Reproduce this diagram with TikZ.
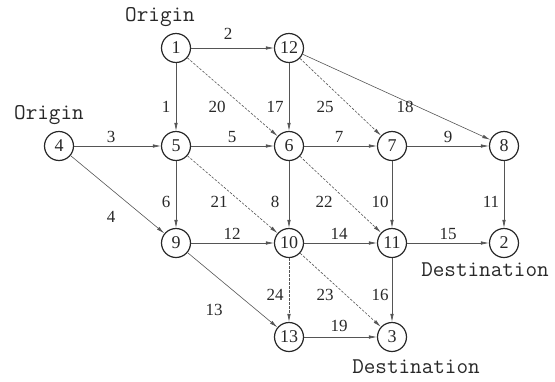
\documentclass[tikz,border=0pt]{standalone}
\usepackage{fontspec}
\setmainfont{Liberation Serif}
\usetikzlibrary{arrows.meta,positioning}
\definecolor{linegray}{RGB}{85,85,85}
\definecolor{inkgray}{RGB}{40,40,40}

\begin{document}
\begin{tikzpicture}[x=1pt,y=-1pt,
  vert/.style={circle,draw=inkgray,line width=1.2pt,minimum size=29pt,inner sep=0pt,
    text=inkgray,font=\fontsize{18}{18}\selectfont},
  arc/.style={linegray,line width=0.6pt,-{Latex[length=8pt,width=3.5pt]}},
  dasharc/.style={arc,dash pattern=on 2.5pt off 1.5pt},
  elab/.style={text=inkgray,inner sep=1pt,font=\fontsize{17}{17}\selectfont},
  tag/.style={text=inkgray,inner sep=1pt,font=\ttfamily\fontsize{22.5}{22.5}\selectfont}]
  \useasboundingbox (0,0) rectangle (555,381);
  % ---------- vertices (pixel grid of the original) ----------
  \foreach \n/\x/\y in {1/176/48,12/289/48,4/59/146,5/176/146,6/289/146,7/392/146,
      8/504/146,9/176/243,10/289/243,11/392/243,2/504/243,13/289/337,3/392/337}
    \node[vert] (n\n) at (\x,\y) {\n};
  % ---------- links 1--19 ----------
  \foreach \a/\b in {1/5,1/12,4/5,4/9,5/6,5/9,6/7,6/10,7/8,7/11,8/2,9/10,9/13,
      10/11,11/2,11/3,12/6,12/8,13/3}
    \draw[arc] (n\a) -- (n\b);
  % ---------- links 20--25 ----------
  \foreach \a/\b in {1/6,5/10,6/11,10/3,10/13,12/7}
    \draw[dasharc] (n\a) -- (n\b);
  % ---------- link numbers ----------
  \foreach \t/\x/\y in {2/228/34,1/166/107,20/217/107,17/275/107,25/325/107,18/405/107,
      3/111/137,5/232/137,7/339/137,9/448/137,6/166/202,21/219/202,8/275/202,
      22/324/202,10/380/202,11/491/202,4/111/217,12/232/234,14/339/234,15/448/234,
      24/275/295,13/214/310,23/325/295,16/380/295,19/339/326}
    \node[elab] (l\t) at (\x,\y) {\t};
  % ---------- origins and destinations ----------
  \node[tag] (orgA) at (160,17) {Origin};
  \node[tag] (orgB) at (49,115) {Origin};
  \node[tag] (dstA) at (485,270) {Destination};
  \node[tag] (dstB) at (416,367) {Destination};
\end{tikzpicture}
\end{document}
